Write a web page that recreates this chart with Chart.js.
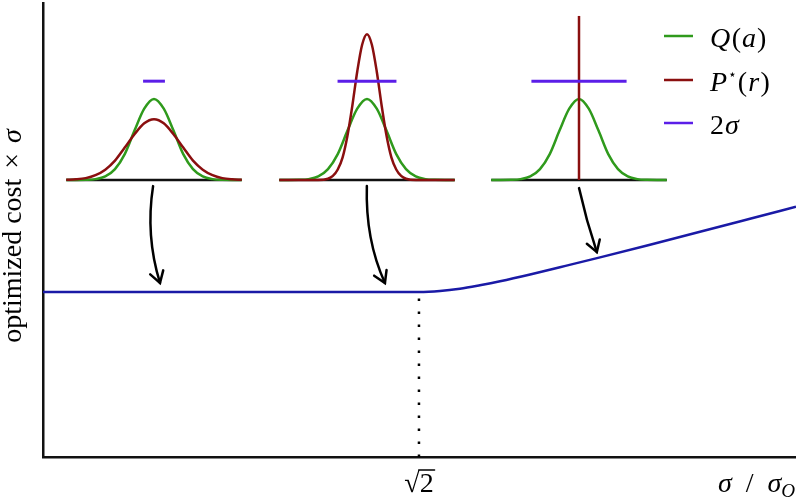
<!DOCTYPE html>
<html>
<head>
<meta charset="utf-8">
<script src="https://cdn.jsdelivr.net/npm/chart.js@4.4.1/dist/chart.umd.min.js"></script>
<style>
  html, body { margin: 0; padding: 0; background: #fff; }
  #wrap { position: relative; width: 796px; height: 497px; }
  #wrap canvas { position: absolute; top: 0; }
</style>
</head>
<body>
<div id="wrap">
  <canvas id="main" width="796" height="497" style="left:0"></canvas>
  <canvas id="inset1" width="180" height="186" style="left:64px"></canvas>
  <canvas id="inset2" width="180" height="186" style="left:277px"></canvas>
  <canvas id="inset3" width="180" height="186" style="left:489px"></canvas>
</div>
<script>
// Curva principal: custo otimizado × σ em função de σ / σ_Q
const sigmaRatio = [0, 1.414, 1.493, 1.568, 1.643, 1.719, 1.832, 1.944, 2.095, 2.283, 2.471, 2.659, 2.832];
const optimizedCost = [1, 1, 1.006, 1.020, 1.041, 1.065, 1.106, 1.150, 1.210, 1.287, 1.365, 1.444, 1.517];
const SQRT2 = 1.414;

// Setas (início, meio, ponta) em unidades do gráfico principal
const arrowFrom = [[0.414, 1.642], [1.218, 1.642], [2.016, 1.630]];
const arrowVia = [[0.406, 1.345], [1.232, 1.333], [2.046, 1.436]];
const arrowTo = [[0.440, 1.055], [1.286, 1.055], [2.083, 1.242]];

// Mini gráficos: eixo em unidades de σ_Q
const gaussX = [-4.5, -4, -3.5, -3, -2.5, -2, -1.5, -1, -0.5, 0, 0.5, 1, 1.5, 2, 2.5, 3, 3.5, 4, 4.5];
const qValues = [0, 0, 0.002, 0.011, 0.044, 0.135, 0.32, 0.61, 0.88, 1, 0.88, 0.61, 0.32, 0.135, 0.044, 0.011, 0.002, 0, 0];
const p1Values = [0.002, 0.008, 0.023, 0.06, 0.128, 0.24, 0.40, 0.565, 0.70, 0.75, 0.70, 0.565, 0.40, 0.24, 0.128, 0.06, 0.023, 0.008, 0.002];
const p2X = [-4.5, -2.5, -2, -1.75, -1.5, -1.25, -1, -0.75, -0.5, -0.25, 0, 0.25, 0.5, 0.75, 1, 1.25, 1.5, 1.75, 2, 2.5, 4.5];
const p2Values = [0, 0, 0.016, 0.05, 0.13, 0.28, 0.55, 0.92, 1.34, 1.67, 1.8, 1.67, 1.34, 0.92, 0.55, 0.28, 0.13, 0.05, 0.016, 0, 0];
const p3X = [0, 0];
const p3Values = [0, 2.025];
const barHalfWidth = [0.56, 1.51, 2.44];
const BAR_LEVEL = 1.22;

// Legenda
const legendColors = ['#2f9a1c', '#8a0f0f', '#5b1ee8'];

const BLUE = '#1a1aa6';
const RM = '28px "Liberation Serif"';
const IT = 'italic 28px "Liberation Serif"';
const IT_SMALL = 'italic 19px "Liberation Serif"';

function toPoints(xs, ys) {
    return xs.map((x, i) => ({ x: x, y: ys[i] }));
}

// Desenha texto composto de trechos com fontes diferentes
function drawRuns(ctx, runs, x, y, align) {
    let total = 0;
    runs.forEach(r => {
        ctx.font = r.font;
        total += ctx.measureText(r.t).width + (r.gap || 0);
    });
    let cx = align === 'right' ? x - total : align === 'center' ? x - total / 2 : x;
    runs.forEach(r => {
        ctx.font = r.font;
        ctx.fillText(r.t, cx, y + (r.dy || 0));
        cx += ctx.measureText(r.t).width + (r.gap || 0);
    });
}

const decorations = {
    id: 'decorations',
    afterDraw(chart) {
        const ctx = chart.ctx;
        const xs = chart.scales.x;
        const ys = chart.scales.y;
        ctx.save();

        // Setas curvas
        ctx.strokeStyle = '#000';
        ctx.lineWidth = 2.5;
        ctx.lineCap = 'round';
        arrowFrom.forEach((a, i) => {
            const x0 = xs.getPixelForValue(a[0]), y0 = ys.getPixelForValue(a[1]);
            const xm = xs.getPixelForValue(arrowVia[i][0]), ym = ys.getPixelForValue(arrowVia[i][1]);
            const x1 = xs.getPixelForValue(arrowTo[i][0]), y1 = ys.getPixelForValue(arrowTo[i][1]);
            const cx = 2 * xm - (x0 + x1) / 2, cy = 2 * ym - (y0 + y1) / 2;
            ctx.beginPath();
            ctx.moveTo(x0, y0);
            ctx.quadraticCurveTo(cx, cy, x1, y1);
            ctx.stroke();
            const ang = Math.atan2(y1 - cy, x1 - cx);
            ctx.beginPath();
            ctx.moveTo(x1 - 13 * Math.cos(ang - 0.55), y1 - 13 * Math.sin(ang - 0.55));
            ctx.lineTo(x1, y1);
            ctx.lineTo(x1 - 13 * Math.cos(ang + 0.55), y1 - 13 * Math.sin(ang + 0.55));
            ctx.stroke();
        });

        ctx.fillStyle = '#000';
        ctx.textBaseline = 'alphabetic';

        // Rótulo do eixo y
        ctx.save();
        ctx.translate(21, 236);
        ctx.rotate(-Math.PI / 2);
        drawRuns(ctx, [
            { t: 'optimized cost ', font: RM, gap: 3 },
            { t: '× ', font: RM, gap: 3 },
            { t: 'σ', font: IT }
        ], 0, 0, 'center');
        ctx.restore();

        // Rótulo √2 sob a linha pontilhada
        const xr = xs.getPixelForValue(SQRT2);
        const base = chart.chartArea.bottom + 35;
        ctx.font = RM;
        const wRad = ctx.measureText('√').width;
        const wTwo = ctx.measureText('2').width;
        const left = xr - (wRad + wTwo) / 2;
        ctx.fillText('√', left, base);
        ctx.fillText('2', left + wRad, base);
        ctx.lineWidth = 1.3;
        ctx.beginPath();
        ctx.moveTo(left + wRad - 1, base - 22);
        ctx.lineTo(left + wRad + wTwo + 1, base - 22);
        ctx.stroke();

        // Rótulo do eixo x
        drawRuns(ctx, [
            { t: 'σ', font: IT, gap: 7 },
            { t: ' / ', font: RM, gap: 7 },
            { t: 'σ', font: IT },
            { t: 'Q', font: IT_SMALL, dy: 5 }
        ], 795, base, 'right');

        // Legenda
        const rows = [
            [{ t: 'Q', font: IT, gap: 1.5 }, { t: '(', font: RM, gap: 1 }, { t: 'a', font: IT, gap: 1 }, { t: ')', font: RM }],
            [{ t: 'P', font: IT, gap: 1 }, { t: '⋆', font: '14px "DejaVu Sans"', dy: -12, gap: 1 }, { t: '(', font: RM, gap: 1 }, { t: 'r', font: IT, gap: 1.5 }, { t: ')', font: RM }],
            [{ t: '2', font: RM, gap: 1 }, { t: 'σ', font: IT }]
        ];
        const rowY = [36, 80, 123];
        rows.forEach((runs, i) => {
            ctx.strokeStyle = legendColors[i];
            ctx.lineWidth = 2.5;
            ctx.lineCap = 'butt';
            ctx.beginPath();
            ctx.moveTo(664, rowY[i]);
            ctx.lineTo(693, rowY[i]);
            ctx.stroke();
            ctx.fillStyle = '#000';
            drawRuns(ctx, runs, 710, rowY[i] + 11, 'left');
        });

        ctx.restore();
    }
};

// Gráfico principal
const mainChart = new Chart(document.getElementById('main'), {
    type: 'line',
    data: {
        datasets: [
            {
                data: toPoints(sigmaRatio, optimizedCost),
                borderColor: BLUE,
                borderWidth: 2.5,
                pointRadius: 0,
                cubicInterpolationMode: 'monotone',
                order: 0
            },
            {
                data: toPoints([SQRT2, SQRT2], [0, optimizedCost[1]]),
                borderColor: '#000',
                borderWidth: 2.5,
                borderDash: [2.5, 10.5],
                pointRadius: 0,
                order: 1
            }
        ]
    },
    options: {
        responsive: false,
        animation: false,
        layout: { padding: { left: 43, right: 0, top: 3, bottom: 40 } },
        plugins: { legend: { display: false }, tooltip: { enabled: false } },
        scales: {
            x: {
                type: 'linear',
                min: 0,
                max: 2.832,
                ticks: { display: false },
                grid: { display: false, drawTicks: false },
                border: { display: true, color: '#111', width: 2.5 }
            },
            y: {
                type: 'linear',
                min: 0,
                max: 2.752,
                ticks: { display: false },
                grid: { display: false, drawTicks: false },
                border: { display: true, color: '#111', width: 2.5 }
            }
        }
    },
    plugins: [decorations]
});

// Mini gráficos das distribuições
function makeInset(id, pX, pValues, half) {
    return new Chart(document.getElementById(id), {
        type: 'line',
        data: {
            datasets: [
                { data: toPoints([-half, half], [BAR_LEVEL, BAR_LEVEL]), borderColor: legendColors[2], borderWidth: 3, pointRadius: 0, order: 0 },
                { data: toPoints(pX, pValues), borderColor: legendColors[1], borderWidth: 2.5, pointRadius: 0, cubicInterpolationMode: 'monotone', order: 1 },
                { data: toPoints(gaussX, qValues), borderColor: legendColors[0], borderWidth: 2.5, pointRadius: 0, cubicInterpolationMode: 'monotone', order: 2 },
                { data: toPoints([-4.5, 4.5], [0, 0]), borderColor: '#111', borderWidth: 2.5, pointRadius: 0, order: 3 }
            ]
        },
        options: {
            responsive: false,
            animation: false,
            layout: { padding: 0 },
            plugins: { legend: { display: false }, tooltip: { enabled: false } },
            scales: {
                x: { type: 'linear', display: false, min: -4.615, max: 4.615 },
                y: { type: 'linear', display: false, min: -0.074, max: 2.222 }
            }
        }
    });
}

makeInset('inset1', gaussX, p1Values, barHalfWidth[0]);
makeInset('inset2', p2X, p2Values, barHalfWidth[1]);
makeInset('inset3', p3X, p3Values, barHalfWidth[2]);
</script>
</body>
</html>
